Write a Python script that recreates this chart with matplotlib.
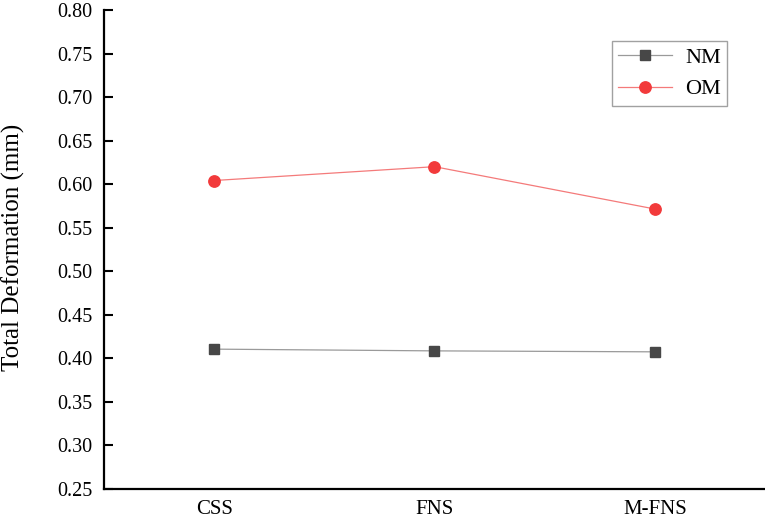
import matplotlib
matplotlib.use("Agg")
import matplotlib.pyplot as plt

categories = ["CSS", "FNS", "M-FNS"]
nm_values = [0.4106, 0.4086, 0.4075]
om_values = [0.6042, 0.6201, 0.5715]
yticks = [0.25, 0.30, 0.35, 0.40, 0.45, 0.50, 0.55, 0.60, 0.65, 0.70, 0.75, 0.80]

SERIF = ["Liberation Serif", "DejaVu Serif"]

W, H = 765, 518
TOP = 10
fig = plt.figure(figsize=(W / 100, H / 100), dpi=100)
ax = fig.add_axes([104 / W, 1 - 489 / H, 661 / W, (489 - TOP) / H])

x = list(range(1, len(categories) + 1))
ax.plot(x, nm_values, color="#9a9a9a", lw=0.9, marker="s", ms=7.2,
        mfc="#474747", mec="#474747", label="NM", zorder=3)
ax.plot(x, om_values, color="#f47a7a", lw=0.9, marker="o", ms=8.2,
        mfc="#f23a3b", mec="#f23a3b", label="OM", zorder=3)

ax.set_xlim(0.5, 3.5)
ax.set_ylim(0.25, 0.80)
ax.set_xticks(x)
ax.set_xticklabels(categories, family=SERIF, fontsize=15)
ax.set_yticks(yticks)
ax.set_yticklabels([f"{v:.2f}" for v in yticks], family=SERIF, fontsize=14.5)

for s in ["top", "right"]:
    ax.spines[s].set_visible(False)
for s in ["left", "bottom"]:
    ax.spines[s].set_linewidth(1.6)
ax.tick_params(axis="y", direction="in", length=6.5, width=1.5, pad=8.6)
ax.tick_params(axis="x", length=0, pad=8)

fig.text(13 / W, 1 - 247 / H, "Total Deformation (mm)", rotation=90,
         ha="center", va="center", fontsize=18, family=SERIF)

leg = ax.legend(loc="upper right", bbox_to_anchor=((727 - 104) / 661, (489 - 41) / (489 - TOP)),
                borderaxespad=0, frameon=True, fancybox=False,
                prop={"family": SERIF, "size": 16},
                handlelength=2.4, handletextpad=0.6, labelspacing=0.5,
                borderpad=0.28, markerscale=1.0)
leg.get_frame().set_edgecolor("#8a8a8a")
leg.get_frame().set_linewidth(1.0)

fig.savefig("out.png", dpi=100)
